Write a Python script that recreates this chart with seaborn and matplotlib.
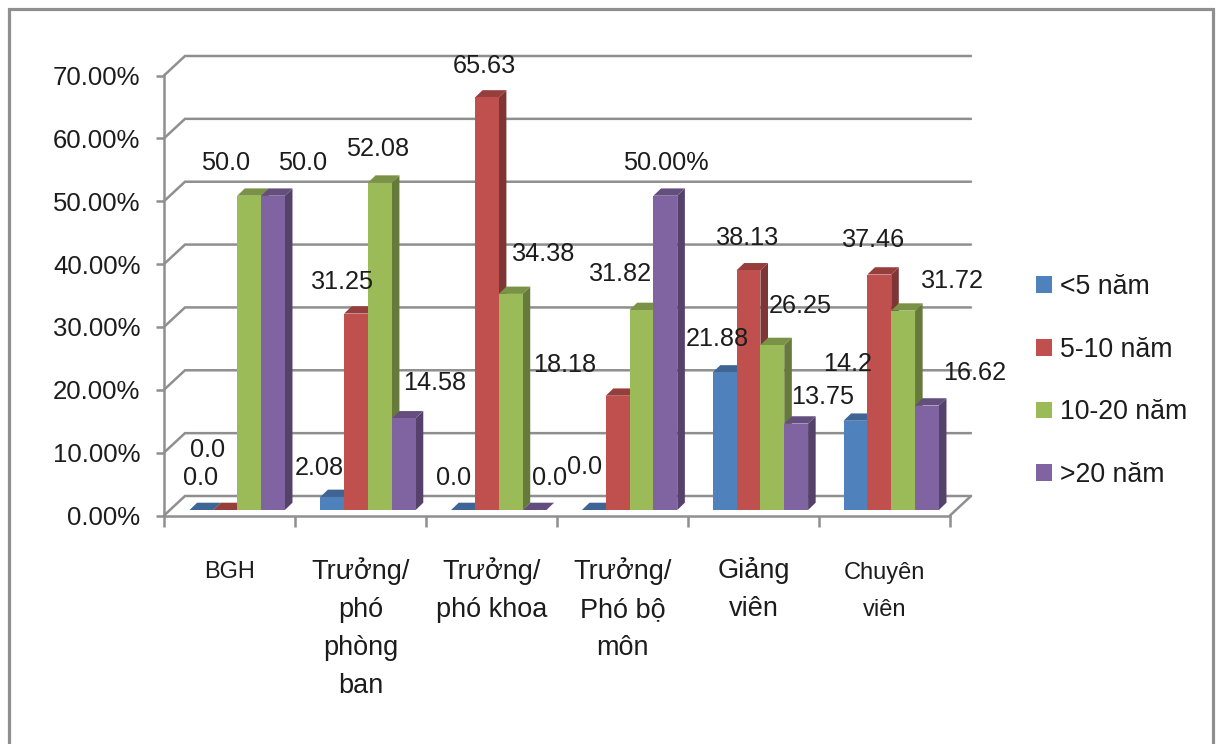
import matplotlib
matplotlib.use("Agg")
import matplotlib.pyplot as plt
import matplotlib.colors as mcolors
from matplotlib.patches import Polygon, Rectangle
import pandas as pd
import seaborn as sns

# Survey data: years of service by position
categories = ["BGH", "Trưởng/\nphó\nphòng\nban", "Trưởng/\nphó khoa",
              "Trưởng/\nPhó bộ\nmôn", "Giảng\nviên", "Chuyên\nviên"]
series_names = ["<5 năm", "5-10 năm", "10-20 năm", ">20 năm"]
under_5 = [0.0, 2.08, 0.0, 0.0, 21.88, 14.2]
from_5_to_10 = [0.0, 31.25, 65.63, 18.18, 38.13, 37.46]
from_10_to_20 = [50.0, 52.08, 34.38, 31.82, 26.25, 31.72]
over_20 = [50.0, 14.58, 0.0, 50.0, 13.75, 16.62]

labels_under_5 = ["0.0", "2.08", "0.0", "0.0", "21.88", "14.2"]
labels_5_to_10 = ["0.0", "31.25", "65.63", "18.18", "38.13", "37.46"]
labels_10_to_20 = ["50.0", "52.08", "34.38", "31.82", "26.25", "31.72"]
labels_over_20 = ["50.0", "14.58", "0.0", "50.00%", "13.75", "16.62"]

palette = ["#4F81BD", "#C0504D", "#9BBB59", "#8064A2"]
axis_grey = "#8f8f8f"
text_color = "#1c1c1c"

# Label placement relative to each bar's top, in pixels (right, up)
offsets_under_5 = [(-1, 32), (-13, 29), (-9, 32), (-9, 43), (-7, 33), (-8, 57)]
offsets_5_to_10 = [(-18, 60), (-14, 32), (-3, 31), (-53, 31), (-1, 32), (-6, 35)]
offsets_10_to_20 = [(-24, 33), (-2, 34), (33, 40), (-21, 36), (28, 39), (49, 30)]
offsets_over_20 = [(30, 33), (31, 35), (15, 32), (0, 33), (26, 27), (48, 33)]

W, H = 1216, 744
DPI = 100
BAR_DEPTH_PX = (7.6, 7.3)
WALL_DEPTH_PX = (21, 19.5)

sns.set_theme(style="white")
plt.rcParams["font.family"] = ["Liberation Sans", "DejaVu Sans"]

fig = plt.figure(figsize=(W / DPI, H / DPI), dpi=DPI, facecolor="white")


def px_rect(left, right, top, bottom):
    return [left / W, 1 - bottom / H, (right - left) / W, (bottom - top) / H]


# Outer chart border, open past the lower edge of the canvas
fig.add_artist(Rectangle((8.5 / W, -0.05), (1213 - 8.5) / W, 1.05 - 8.5 / H,
                         transform=fig.transFigure, fill=False,
                         edgecolor=axis_grey, linewidth=2.3))

# Front plane with the value axis, category ticks and receding grid
frame = fig.add_axes(px_rect(164, 950, 75.5, 515.5))
frame.set_xlim(0, len(categories))
frame.set_ylim(0, 70)
frame.patch.set_alpha(0)
for side in ("top", "right"):
    frame.spines[side].set_visible(False)
for side in ("left", "bottom"):
    frame.spines[side].set_color(axis_grey)
    frame.spines[side].set_linewidth(1.8)
frame.set_yticks(range(0, 71, 10))
frame.set_yticklabels([f"{v:.2f}%" for v in range(0, 71, 10)], fontsize=18.5, color=text_color)
frame.tick_params(axis="y", length=6, width=1.8, color=axis_grey, pad=11, left=True)
frame.set_xticks(range(len(categories) + 1))
frame.set_xticklabels([])
frame.tick_params(axis="x", length=8, width=1.8, color=axis_grey, bottom=True)

xu = 1 / (786 / len(categories))
yu = 70 / 440
dx, dy = WALL_DEPTH_PX[0] * xu, WALL_DEPTH_PX[1] * yu
for v in range(0, 71, 10):
    frame.plot([0, dx, len(categories) + dx], [v, v + dy, v + dy],
               color=axis_grey, lw=1.8, clip_on=False, zorder=1, solid_joinstyle="miter")
frame.plot([len(categories), len(categories) + dx], [0, dy],
           color=axis_grey, lw=1.8, clip_on=False, zorder=1)

small_labels = {"BGH", "Chuyên\nviên"}
for i, name in enumerate(categories):
    small = name in small_labels
    frame.annotate(name, xy=(i + 0.5, 0), xycoords="data",
                   xytext=(0, -46 if small else -42), textcoords="offset pixels",
                   ha="center", va="top", linespacing=1.93 if small else 1.6,
                   fontsize=17 if small else 19.5, color=text_color,
                   annotation_clip=False)

# Bars sit on a plane slightly behind the front edge of the floor
bars_ax = fig.add_axes(px_rect(171.8, 956.6, 70, 510))
frame_long = pd.DataFrame({
    "position": categories * 4,
    "series": [s for s in series_names for _ in categories],
    "share": under_5 + from_5_to_10 + from_10_to_20 + over_20,
})
sns.barplot(data=frame_long, x="position", y="share", hue="series", order=categories,
            hue_order=series_names, palette=palette, saturation=1, width=0.729, gap=0,
            errorbar=None, ax=bars_ax, legend=False, linewidth=0)
bars_ax.set_xlim(-0.5, len(categories) - 0.5)
bars_ax.set_ylim(0, 70)
bars_ax.axis("off")
bars_ax.patch.set_alpha(0)

bdx = BAR_DEPTH_PX[0] * (6 / 784.8)
bdy = BAR_DEPTH_PX[1] * (70 / 440)


def shade(color, factor):
    r, g, b = mcolors.to_rgb(color)
    return (r * factor, g * factor, b * factor)


rects = [p for p in bars_ax.patches if isinstance(p, Rectangle)]
for n, rect in enumerate(rects):
    color = palette[n // len(categories)]
    x0, x1 = rect.get_x(), rect.get_x() + rect.get_width()
    top = rect.get_height()
    z = 3 + x0
    rect.set_zorder(z + 0.2)
    rect.set_clip_on(False)
    bars_ax.add_patch(Polygon([(x1, 0), (x1 + bdx, bdy), (x1 + bdx, top + bdy), (x1, top)],
                              facecolor=shade(color, 0.66), edgecolor="none", zorder=z, clip_on=False))
    bars_ax.add_patch(Polygon([(x0, top), (x0 + bdx, top + bdy), (x1 + bdx, top + bdy), (x1, top)],
                              facecolor=shade(color, 0.78), edgecolor="none", zorder=z + 0.1, clip_on=False))

# Value labels
all_labels = labels_under_5 + labels_5_to_10 + labels_10_to_20 + labels_over_20
all_offsets = offsets_under_5 + offsets_5_to_10 + offsets_10_to_20 + offsets_over_20
for rect, text, off in zip(rects, all_labels, all_offsets):
    bars_ax.annotate(text, xy=(rect.get_x() + rect.get_width() / 2, rect.get_height()),
                     xytext=off, textcoords="offset pixels", ha="center", va="center",
                     fontsize=18.2, color=text_color, zorder=50, annotation_clip=False)

# Legend
handles = [Rectangle((0, 0), 1, 1, facecolor=c, edgecolor="none") for c in palette]
fig.legend(handles, series_names, loc="center left",
           bbox_to_anchor=(1023 / W, 1 - 381 / H), frameon=False, fontsize=19.2,
           labelcolor=text_color, handlelength=0.6, handleheight=0.6,
           handletextpad=0.3, labelspacing=1.38, borderpad=0)

fig.savefig("out.png", dpi=DPI, facecolor="white")
